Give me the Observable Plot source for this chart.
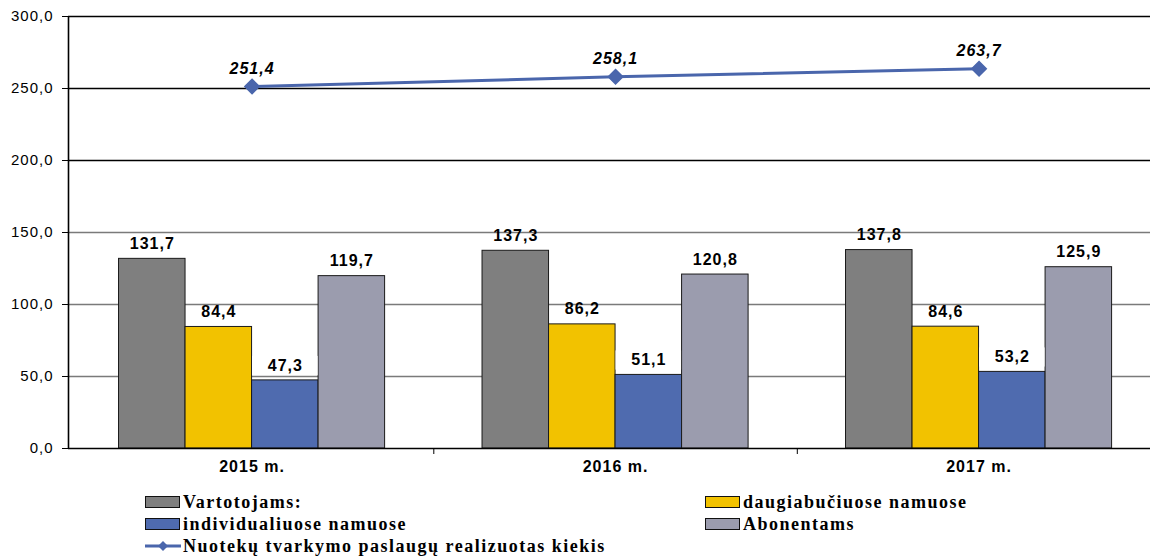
<!DOCTYPE html>
<html>
<head>
<meta charset="utf-8">
<script src="https://cdn.jsdelivr.net/npm/d3@7"></script>
<script src="https://cdn.jsdelivr.net/npm/@observablehq/plot@0.6"></script>
<style>
  body { margin: 0; background: #fff; }
  #wrap { position: relative; width: 1150px; height: 558px; overflow: hidden; }
  #wrap svg text { letter-spacing: 1px; }
  .leg { position: absolute; display: flex; align-items: center; font-family: "Liberation Serif", "Times New Roman", serif; font-weight: bold; font-size: 18px; letter-spacing: 1.5px; color: #000; white-space: nowrap; }
  .sw { width: 33px; height: 10px; border: 1px solid #111; margin-right: 3px; }
</style>
</head>
<body>
<div id="wrap"></div>
<script>
const years = ["2015 m.", "2016 m.", "2017 m."];
const seriesNames = ["Vartotojams:", "daugiabučiuose namuose", "individualiuose namuose", "Abonentams"];
const vartotojams = [131.7, 137.3, 137.8];
const daugiabuciuose = [84.4, 86.2, 84.6];
const individualiuose = [47.3, 51.1, 53.2];
const abonentams = [119.7, 120.8, 125.9];
const lineName = "Nuotekų tvarkymo paslaugų realizuotas kiekis";
const realizuota = [251.4, 258.1, 263.7];
const yTicks = [0, 50, 100, 150, 200, 250, 300];
const colors = ["#7f7f7f", "#f2c200", "#4f6baf", "#9b9cae"];
const lineColor = "#4a66ac";

const seriesValues = [vartotojams, daugiabuciuose, individualiuose, abonentams];
const bw = 0.183;
const fmt = d => d.toFixed(1).replace(".", ",");

const barData = years.flatMap((yr, i) => seriesValues.map((vals, k) => ({
  i, k, value: vals[i],
  x1: i - 2 * bw + k * bw,
  x2: i - 2 * bw + (k + 1) * bw
})));
const lineData = years.map((yr, i) => ({ i, value: realizuota[i] }));
const yearData = years.map((yr, i) => ({ i, yr }));

const font = "Arial, 'Liberation Sans', sans-serif";

const chart = Plot.plot({
  width: 1150,
  height: 480,
  marginLeft: 68,
  marginRight: 0,
  marginTop: 16,
  marginBottom: 32,
  style: { fontFamily: font, color: "#000", background: "#fff" },
  x: { domain: [-0.505, 2.5], range: [68, 1160.3], axis: null },
  y: { domain: [0, 300], range: [448, 16], axis: null },
  marks: [
    Plot.ruleY(yTicks.filter(d => d > 0), { stroke: d => d >= 200 ? "#000" : "#7a7a7a", strokeWidth: 1.3 }),
    Plot.rect(barData, { x1: "x1", x2: "x2", y1: 0, y2: "value", fill: d => colors[d.k], stroke: "#1a1a1a", strokeWidth: 1 }),
    Plot.rect(barData.filter(d => d.k === 2), { x1: "x1", x2: "x2", y1: d => d.value + 3, y2: d => d.value + 17, fill: "#fff", inset: 0.5 }),
    Plot.text(barData, { x: d => (d.x1 + d.x2) / 2, y: "value", text: d => fmt(d.value), dy: -15, fontSize: 16, fontWeight: "bold", fill: "#000" }),
    Plot.ruleY([0], { stroke: "#000", strokeWidth: 1.6 }),
    Plot.ruleX([-0.505], { y1: 0, y2: 300, stroke: "#000", strokeWidth: 1.6 }),
    Plot.axisY({ ticks: yTicks, tickFormat: fmt, tickSize: 6, tickPadding: 9, fontSize: 15, anchor: "left", label: null, stroke: "#000", fill: "#000" }),
    Plot.axisX({ ticks: [0.5, 1.5], tickSize: 6, tickFormat: () => "", anchor: "bottom", label: null, stroke: "#000" }),
    Plot.text(yearData, { x: "i", y: () => 0, text: "yr", dy: 18, fontSize: 16, fontWeight: "bold", fill: "#000" }),
    Plot.line(lineData, { x: "i", y: "value", stroke: lineColor, strokeWidth: 3 }),
    Plot.dot(lineData, { x: "i", y: "value", symbol: "diamond2", r: 6.5, fill: lineColor, stroke: lineColor }),
    Plot.text(lineData, { x: "i", y: "value", text: d => fmt(d.value), dy: -18, fontSize: 16, fontWeight: "bold", fontStyle: "italic", fill: "#000" })
  ]
});

const wrap = document.getElementById("wrap");
wrap.appendChild(chart);

const legendItems = [
  { name: seriesNames[0], color: colors[0], left: 145, top: 491 },
  { name: seriesNames[1], color: colors[1], left: 705, top: 491 },
  { name: seriesNames[2], color: colors[2], left: 145, top: 513 },
  { name: seriesNames[3], color: colors[3], left: 705, top: 513 },
  { name: lineName, line: true, left: 145, top: 535 }
];
for (const it of legendItems) {
  const d = document.createElement("div");
  d.className = "leg";
  d.style.left = it.left + "px";
  d.style.top = it.top + "px";
  d.style.height = "22px";
  if (it.line) {
    d.innerHTML = `<svg width="36" height="12" style="margin-right:2px"><line x1="0" y1="6" x2="36" y2="6" stroke="${lineColor}" stroke-width="3"/><path d="M18,1 L23,6 L18,11 L13,6 Z" fill="${lineColor}"/></svg>`;
  } else {
    d.innerHTML = `<div class="sw" style="background:${it.color}"></div>`;
  }
  const s = document.createElement("span");
  s.textContent = it.name;
  d.appendChild(s);
  wrap.appendChild(d);
}
</script>
</body>
</html>
